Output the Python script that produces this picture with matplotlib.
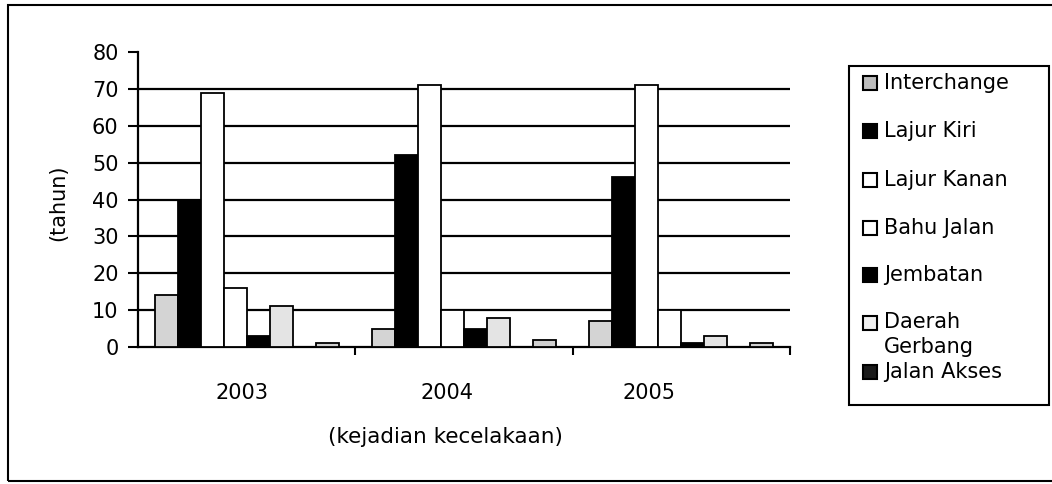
import numpy as np
import matplotlib
matplotlib.use('Agg')
import matplotlib.pyplot as plt
from matplotlib.patches import Rectangle

# data (jumlah kejadian per lokasi)
years = ['2003', '2004', '2005']
interchange = [14, 5, 7]
lajur_kiri = [40, 52, 46]
lajur_kanan = [69, 71, 71]
bahu_jalan = [16, 10, 10]
jembatan = [3, 5, 1]
daerah_gerbang = [11, 8, 3]
jalan_akses = [0, 0, 0]
lainnya = [1, 2, 1]          # 8th series, its legend entry is cut off in the scan

series = [interchange, lajur_kiri, lajur_kanan, bahu_jalan,
          jembatan, daerah_gerbang, jalan_akses, lainnya]
names = ['Interchange', 'Lajur Kiri', 'Lajur Kanan', 'Bahu Jalan',
         'Jembatan', 'Daerah\nGerbang', 'Jalan Akses', None]
colors = ['#d4d4d4', 'black', 'white', 'white',
          'black', '#e4e4e4', '#1a1a1a', '#d0d0d0']
label_pos = [-0.02, 0.92, 1.85]   # the scanned year labels sit a bit left of centre

W, H = 1052, 484
plt.rcParams['font.family'] = ['DejaVu Sans']

fig = plt.figure(figsize=(W / 100, H / 100), dpi=100)


def fx(px):
    return px / W


def fy(py):
    return 1 - py / H


ax = fig.add_axes([fx(138), fy(347), fx(790) - fx(138), fy(52) - fy(347)])

x = np.arange(len(years))
w = 0.106
for i, vals in enumerate(series):
    ax.bar(x + (i - 3.5) * w, vals, w, color=colors[i],
           edgecolor='black', linewidth=1.3, zorder=3)

ax.set_xlim(-0.5, 2.5)
ax.set_ylim(0, 80)
ax.set_yticks(range(0, 81, 10))
ax.yaxis.grid(True, color='black', linewidth=1.6)
ax.set_axisbelow(True)
gl = ax.get_ygridlines()
gl[0].set_visible(False)
gl[-1].set_visible(False)

ax.set_xticks(label_pos)
ax.set_xticklabels(years)
ax.set_xticks([0.5, 1.5, 2.5], minor=True)
ax.tick_params(axis='x', which='major', length=0, pad=26, labelsize=15)
ax.tick_params(axis='x', which='minor', length=6, width=1.5, direction='out')
ax.tick_params(axis='y', length=7, width=1.5, direction='out', pad=7, labelsize=15)

for s in ['top', 'right']:
    ax.spines[s].set_visible(False)
for s in ['left', 'bottom']:
    ax.spines[s].set_linewidth(1.6)

ax.set_xlabel('(kejadian kecelakaan)', fontsize=15.5)
ax.xaxis.label.set_va('center')
ax.xaxis.set_label_coords((445 - 138) / 652, (347 - 437) / 295)
ax.set_ylabel('(tahun)', fontsize=15)
ax.yaxis.label.set_va('center')
ax.yaxis.set_label_coords((58 - 138) / 652, (347 - 203) / 295)

# outer frame of the pasted chart
fig.patches.append(Rectangle((fx(8), fy(481)), fx(1060) - fx(8), fy(5) - fy(481),
                             transform=fig.transFigure, fill=False,
                             edgecolor='black', linewidth=1.5))

# legend box drawn by hand (the two-line entry overlaps the next one in the original)
fig.patches.append(Rectangle((fx(849), fy(405)), fx(1049) - fx(849), fy(66) - fy(405),
                             transform=fig.transFigure, fill=False,
                             edgecolor='black', linewidth=1.5))
leg_y = [83, 131, 180, 228, 275, 323, 372]
leg_face = ['#bdbdbd', 'black', 'white', 'white', 'black', '#f0f0f0', '#1a1a1a']
for k in range(7):
    yc = leg_y[k]
    fig.patches.append(Rectangle((fx(863), fy(yc + 7)), fx(14), fy(0) - fy(14),
                                 transform=fig.transFigure, facecolor=leg_face[k],
                                 edgecolor='black', linewidth=1.5))
    if k == 5:
        fig.text(fx(884), fy(yc - 11), names[k], fontsize=15, ha='left', va='top',
                 linespacing=1.3)
    else:
        fig.text(fx(884), fy(yc), names[k], fontsize=15, ha='left', va='center')

fig.savefig('out.png', dpi=100)
